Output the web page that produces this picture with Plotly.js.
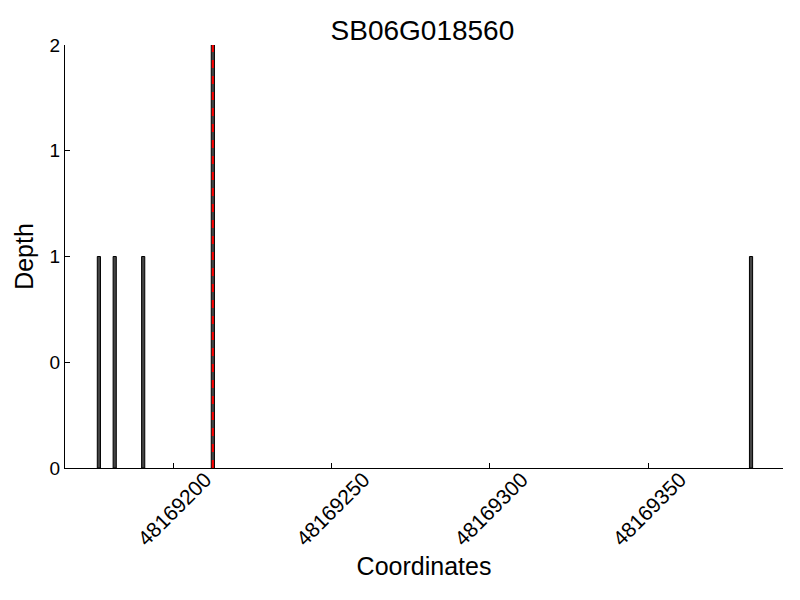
<!DOCTYPE html>
<html>
<head>
<meta charset="utf-8">
<script src="https://cdn.plot.ly/plotly-3.0.1.min.js"></script>
<style>html,body{margin:0;padding:0;background:#fff;}#chart{width:800px;height:600px;}</style>
</head>
<body>
<div id="chart"></div>
<script>
const positions = [48169176, 48169181, 48169190, 48169212, 48169382];
const depths = [1, 1, 1, 2, 1];
const markerPosition = 48169212.5;
const markerDepth = [0, 2];
const yTickVals = [0, 0.5, 1, 1.5, 2];
const yTickText = ["0", "0", "1", "1", "2"];
const xTickVals = [48169200, 48169250, 48169300, 48169350];
const xTickText = ["48169200", "48169250", "48169300", "48169350"];
const titleText = "SB06G018560";

const font = "Liberation Sans, Arial, Helvetica, sans-serif";

const traces = [
  {
    type: "bar",
    x: positions,
    y: depths,
    width: 1,
    offset: 0,
    marker: {color: "#444444", line: {color: "#000000", width: 1}},
    hoverinfo: "x+y"
  },
  {
    type: "scatter",
    mode: "lines",
    x: [markerPosition, markerPosition],
    y: markerDepth,
    line: {color: "#ff0000", width: 2, dash: "8px,8px"},
    hoverinfo: "skip"
  }
];

const layout = {
  width: 800,
  height: 600,
  showlegend: false,
  paper_bgcolor: "#ffffff",
  plot_bgcolor: "#ffffff",
  margin: {l: 65, r: 17, t: 45, b: 132},
  bargap: 0,
  title: {text: titleText, font: {family: font, size: 28, color: "#000"}, x: 0.528, xanchor: "center", y: 0.95, yanchor: "middle"},
  xaxis: {
    range: [48169165.8, 48169392.6],
    tickvals: xTickVals,
    ticktext: xTickText,
    tickangle: -45,
    ticks: "inside",
    ticklen: 5,
    tickcolor: "#000",
    ticklabelshift: 32,
    ticklabelstandoff: -10,
    showgrid: false,
    zeroline: false,
    showline: true,
    linecolor: "#000",
    linewidth: 1,
    tickfont: {family: font, size: 21, color: "#000"},
    title: {text: "Coordinates", font: {family: font, size: 25, color: "#000"}, standoff: 8}
  },
  yaxis: {
    range: [0, 2],
    tickvals: yTickVals,
    ticktext: yTickText,
    ticks: "inside",
    ticklen: 5,
    tickcolor: "#000",
    showgrid: false,
    zeroline: false,
    showline: true,
    linecolor: "#000",
    linewidth: 1,
    tickfont: {family: font, size: 19, color: "#000"},
    title: {text: "Depth", font: {family: font, size: 25, color: "#000"}, standoff: 8}
  }
};

Plotly.newPlot("chart", traces, layout, {displayModeBar: false, staticPlot: true});
</script>
</body>
</html>
